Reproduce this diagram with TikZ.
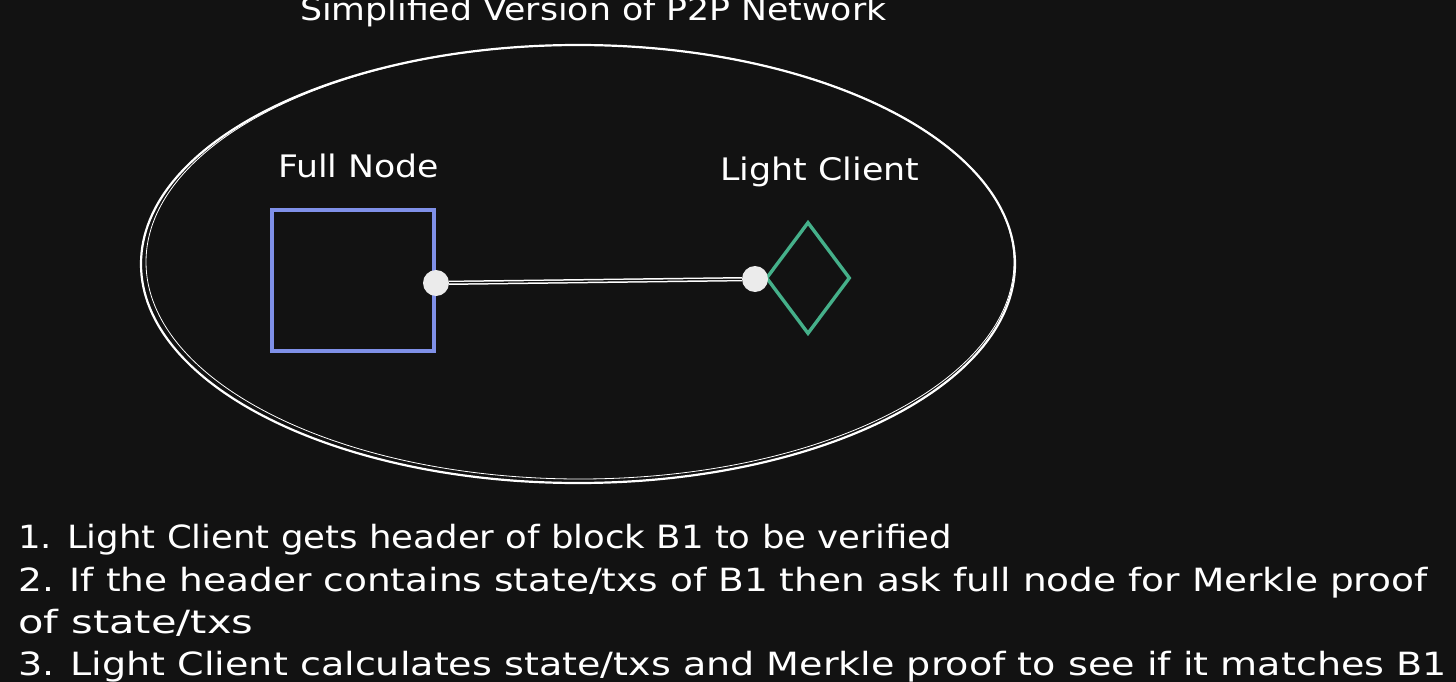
\documentclass[tikz,border=0pt]{standalone}
\usepackage{fontspec}
\setmainfont{DejaVu Sans}
\usetikzlibrary{shapes.geometric}
\definecolor{bg}{HTML}{121212}
\definecolor{fnblue}{HTML}{7F90E8}
\definecolor{lcgreen}{HTML}{45B08A}
\newcommand{\sx}[2]{\scalebox{#1}[1]{#2}}
\begin{document}
\begin{tikzpicture}[x=1pt,y=-1pt,
  txt/.style={text=white,inner sep=0pt,font=\fontsize{32}{38}\selectfont},
  lbl/.style={text=white,inner sep=0pt,font=\fontsize{31}{38}\selectfont},
  dot/.style={circle,fill=white!92!black,inner sep=0pt,minimum size=26pt},
  link/.style={draw=white,line width=1.5pt,double=bg,double distance=1.3pt}]
\fill[bg] (0,0) rectangle (1456,682);
\useasboundingbox (0,0) rectangle (1456,682);
% title
\node[lbl,anchor=base west] (title) at (300,21) {\sx{1.12}{Simplified Version of P2P Network}};
% ellipse
\draw[white,line width=2.2pt] (578,264) ellipse [x radius=437, y radius=219];
\draw[white,line width=0.8pt] (580,262) ellipse [x radius=434, y radius=217];
% labels
\node[lbl,anchor=base west] (fnlabel) at (278,177) {\sx{1.12}{Full Node}};
\node[lbl,anchor=base west] (lclabel) at (720,180) {\sx{1.125}{Light Client}};
% full node box
\node[draw=fnblue,line width=3.4pt,minimum width=162pt,minimum height=141pt,inner sep=0pt] (full) at (353,280.5) {};
% light client diamond
\node[diamond,draw=lcgreen,line width=3.4pt,minimum width=84pt,minimum height=112pt,inner sep=0pt] (light) at (808,278) {};
% dots
\node[dot] (d1) at (436,283) {};
\node[dot] (d2) at (755,279) {};
\draw[link] (d1) -- (d2);
% steps
\node[txt,anchor=base west] (s1) at (18,548) {\sx{1.11}{1. Light Client gets header of block B1 to be verified}};
\node[txt,anchor=base west] (s2) at (18,591) {\sx{1.172}{2. If the header contains state/txs of B1 then ask full node for Merkle proof}};
\node[txt,anchor=base west] (s2b) at (18,633) {\sx{1.3}{of state/txs}};
\node[txt,anchor=base west] (s3) at (18,675) {\sx{1.19}{3. Light Client calculates state/txs and Merkle proof to see if it matches B1}};
\end{tikzpicture}
\end{document}
